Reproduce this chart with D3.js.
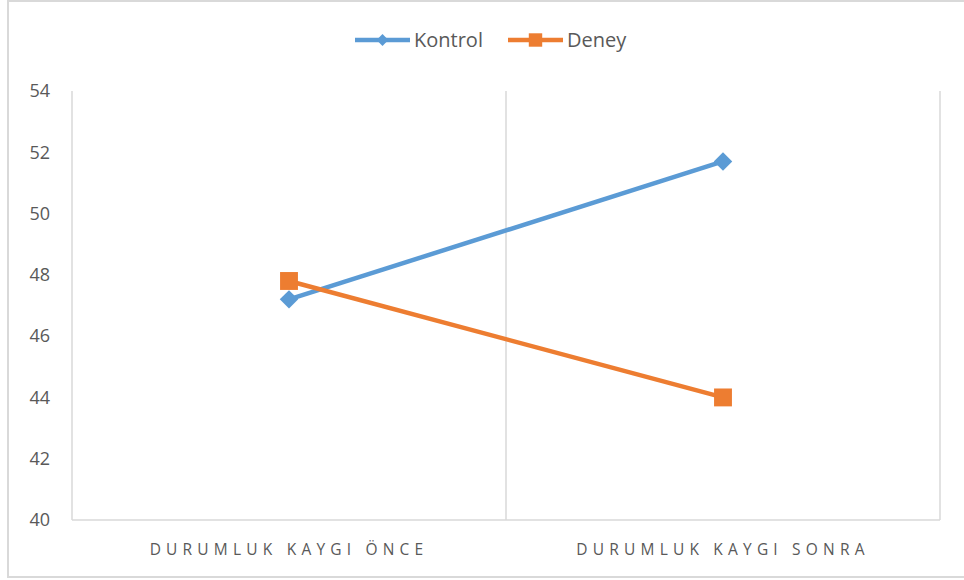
<!DOCTYPE html>
<html>
<head>
<meta charset="utf-8">
<script src="https://cdn.jsdelivr.net/npm/d3@7"></script>
<style>
  body { margin: 0; background: #fff; }
  svg { display: block; font-family: "Open Sans", "Liberation Sans", sans-serif; }
</style>
</head>
<body>
<svg id="chart"></svg>
<script>
let width = 964;
let height = 580;

// data
let categories = ["DURUMLUK KAYGI ÖNCE", "DURUMLUK KAYGI SONRA"];
let seriesNames = ["Kontrol", "Deney"];
let kontrol = [47.2, 51.7];
let deney = [47.8, 44.0];
let yTicks = [40, 42, 44, 46, 48, 50, 52, 54];
let colors = ["#5b9bd5", "#ed7d31"];

let margin = {left: 72, right: 24, top: 91, bottom: 60};

let svg = d3.select("#chart")
    .attr("width", width)
    .attr("height", height);

// chart frame
svg.append("rect")
    .attr("x", 8).attr("y", 1)
    .attr("width", width + 10).attr("height", 576)
    .attr("fill", "none")
    .attr("stroke", "#d9d9d9")
    .attr("stroke-width", 2);

let x = d3.scaleBand()
    .domain(categories)
    .range([margin.left, width - margin.right])
    .padding(0);

let y = d3.scaleLinear()
    .domain([40, 54])
    .range([height - margin.bottom, margin.top]);

// vertical category separators
let edges = [margin.left].concat(categories.map(c => x(c) + x.bandwidth()));
svg.append("g")
    .selectAll("line")
    .data(edges)
    .enter().append("line")
    .attr("x1", d => d).attr("x2", d => d)
    .attr("y1", y(54)).attr("y2", y(40))
    .attr("stroke", "#d9d9d9")
    .attr("stroke-width", 1.5);

// bottom axis line
svg.append("line")
    .attr("x1", margin.left).attr("x2", width - margin.right)
    .attr("y1", y(40)).attr("y2", y(40))
    .attr("stroke", "#d9d9d9")
    .attr("stroke-width", 1.5);

// y tick labels
svg.append("g")
    .selectAll("text")
    .data(yTicks)
    .enter().append("text")
    .attr("x", 50)
    .attr("y", d => y(d))
    .attr("dy", "0.35em")
    .attr("text-anchor", "end")
    .attr("fill", "#595959")
    .attr("font-size", 18)
    .text(d => d);

// x category labels
svg.append("g")
    .selectAll("text")
    .data(categories)
    .enter().append("text")
    .attr("x", d => x(d) + x.bandwidth() / 2)
    .attr("y", 555)
    .attr("text-anchor", "middle")
    .attr("fill", "#595959")
    .attr("font-size", 15.5)
    .attr("letter-spacing", "5.2px")
    .text(d => d);

let series = [kontrol, deney];
let line = d3.line()
    .x((d, i) => x(categories[i]) + x.bandwidth() / 2)
    .y(d => y(d));

let diamond = d3.symbol().type(d3.symbolSquare).size(170);
let square = d3.symbol().type(d3.symbolSquare).size(320);

series.forEach(function (vals, s) {
    svg.append("path")
        .datum(vals)
        .attr("d", line)
        .attr("fill", "none")
        .attr("stroke", colors[s])
        .attr("stroke-width", 4.5);

    svg.append("g")
        .selectAll("path")
        .data(vals)
        .enter().append("path")
        .attr("d", s === 0 ? diamond : square)
        .attr("transform", (d, i) => "translate(" + (x(categories[i]) + x.bandwidth() / 2) + "," + y(d) + ")" + (s === 0 ? " rotate(45)" : ""))
        .attr("fill", colors[s]);
});

// legend
let legendX = [355, 508];
let legend = svg.append("g")
    .selectAll("g")
    .data(seriesNames)
    .enter().append("g")
    .attr("transform", (d, i) => "translate(" + legendX[i] + ",40)");

legend.append("line")
    .attr("x1", 0).attr("x2", 55)
    .attr("stroke", (d, i) => colors[i])
    .attr("stroke-width", 4.5);

legend.append("path")
    .attr("d", (d, i) => i === 0 ? d3.symbol().type(d3.symbolSquare).size(70)() : d3.symbol().type(d3.symbolSquare).size(180)())
    .attr("transform", (d, i) => "translate(27.5,0)" + (i === 0 ? " rotate(45)" : ""))
    .attr("fill", (d, i) => colors[i]);

legend.append("text")
    .attr("x", 59)
    .attr("dy", "0.35em")
    .attr("fill", "#595959")
    .attr("font-size", 20)
    .text(d => d);
</script>
</body>
</html>
